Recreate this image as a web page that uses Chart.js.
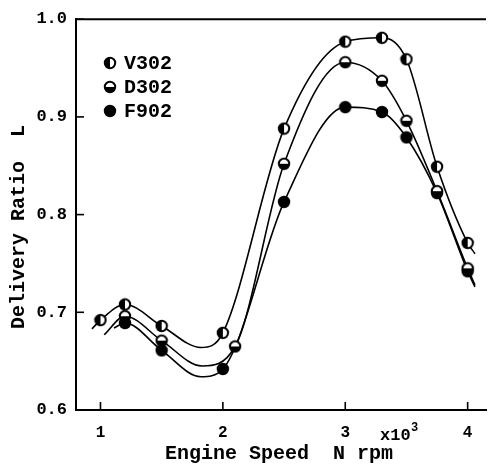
<!DOCTYPE html>
<html>
<head>
<meta charset="utf-8">
<script src="https://cdn.jsdelivr.net/npm/chart.js@4.4.1/dist/chart.umd.min.js"></script>
<style>
html,body{margin:0;padding:0;background:#fff;}
#wrap{width:491px;height:467px;}
</style>
</head>
<body>
<div id="wrap"><canvas id="c" width="491" height="467"></canvas></div>
<script>
// ---- data ----
const seriesNames = ['V302', 'D302', 'F902'];
const xTickValues = [1, 2, 3, 4];
const yTickValues = [0.6, 0.7, 0.8, 0.9, 1.0];
const yTickLabels = ['0.6', '0.7', '0.8', '0.9', '1.0'];

// measured points (markers)
const xV302 = [1.0, 1.2, 1.5, 2.0, 2.5, 3.0, 3.3, 3.5, 3.75, 4.0];
const yV302 = [0.692, 0.708, 0.686, 0.679, 0.888, 0.977, 0.981, 0.959, 0.849, 0.771];
const xD302 = [1.2, 1.5, 2.1, 2.5, 3.0, 3.3, 3.5, 3.75, 4.0];
const yD302 = [0.696, 0.671, 0.665, 0.852, 0.956, 0.937, 0.896, 0.824, 0.745];
const xF902 = [1.2, 1.5, 2.0, 2.5, 3.0, 3.3, 3.5, 3.75, 4.0];
const yF902 = [0.689, 0.661, 0.642, 0.813, 0.910, 0.905, 0.879, 0.822, 0.742];

// extra points of the drawn curves (ends and troughs)
const xV302curve = [0.93, 1.82, 4.06];
const yV302curve = [0.683, 0.664, 0.760];
const xD302curve = [1.03, 1.83, 4.06];
const yD302curve = [0.677, 0.645, 0.728];
const xF902curve = [1.11, 1.82, 4.06];
const yF902curve = [0.684, 0.634, 0.726];

// ---- helpers ----
function pts(xs, ys) { return xs.map((x, i) => ({x: x, y: ys[i]})); }
function curve(xs, ys, cx, cy) {
  return pts(xs, ys).concat(pts(cx, cy)).sort((a, b) => a.x - b.x);
}
function markerImg(kind) {
  const s = 14, c = document.createElement('canvas');
  c.width = s; c.height = s;
  const g = c.getContext('2d');
  const r = 5.2, cx = s / 2, cy = s / 2;
  g.fillStyle = '#fff';
  g.beginPath(); g.arc(cx, cy, r, 0, Math.PI * 2); g.fill();
  g.fillStyle = '#000';
  if (kind === 'full') {
    g.beginPath(); g.arc(cx, cy, r, 0, Math.PI * 2); g.fill();
  } else if (kind === 'left') {
    g.beginPath(); g.arc(cx, cy, r, Math.PI / 2, Math.PI * 1.5); g.closePath(); g.fill();
  } else if (kind === 'bottom') {
    g.beginPath(); g.arc(cx, cy, r, 0, Math.PI); g.closePath(); g.fill();
  }
  g.strokeStyle = '#000'; g.lineWidth = 2;
  g.beginPath(); g.arc(cx, cy, r, 0, Math.PI * 2); g.stroke();
  return c;
}
const mV = markerImg('left'), mD = markerImg('bottom'), mF = markerImg('full');
const markers = [mV, mD, mF];

const FONT = 'Liberation Mono';

const lineBase = {
  type: 'line', showLine: true, pointRadius: 0, pointHoverRadius: 0,
  borderColor: '#000', borderWidth: 1.6, fill: false,
  cubicInterpolationMode: 'monotone', order: 10
};
const markBase = {
  type: 'scatter', showLine: false, borderColor: '#000', backgroundColor: '#000'
};

const decor = {
  id: 'decor',
  afterDraw(chart) {
    const ctx = chart.ctx, xs = chart.scales.x, ys = chart.scales.y, ca = chart.chartArea;
    ctx.save();
    ctx.strokeStyle = '#000';
    ctx.lineWidth = 2;
    ctx.beginPath(); ctx.moveTo(ca.left - 1, ca.top); ctx.lineTo(ca.right, ca.top); ctx.stroke();
    ctx.lineWidth = 1.6;
    xTickValues.forEach(v => {
      const p = xs.getPixelForValue(v);
      ctx.beginPath(); ctx.moveTo(p, ca.bottom); ctx.lineTo(p, ca.bottom - 8); ctx.stroke();
    });
    yTickValues.forEach(v => {
      const p = ys.getPixelForValue(v);
      ctx.beginPath(); ctx.moveTo(ca.left, p); ctx.lineTo(ca.left + 8, p); ctx.stroke();
    });
    // legend
    ctx.fillStyle = '#000';
    ctx.textBaseline = 'middle';
    ctx.textAlign = 'left';
    ctx.font = 'bold 20px "' + FONT + '"';
    const ly = [63, 87, 111];
    seriesNames.forEach((n, i) => {
      ctx.drawImage(markers[i], 110 - 7, ly[i] - 7);
      ctx.fillText(n, 124, ly[i] + 1);
    });
    // x10^3
    ctx.font = 'bold 17px "' + FONT + '"';
    ctx.fillText('x10', 380, 436);
    ctx.font = 'bold 12px "' + FONT + '"';
    ctx.fillText('3', 411, 428);
    // axis titles
    ctx.font = 'bold 20px "' + FONT + '"';
    ctx.textAlign = 'center';
    ctx.fillText('Engine Speed  N rpm', 279, 454);
    ctx.save();
    ctx.translate(19, 227);
    ctx.rotate(-Math.PI / 2);
    ctx.fillText('Delivery Ratio  L', 0, 0);
    ctx.restore();
    ctx.restore();
  }
};

new Chart(document.getElementById('c'), {
  data: {
    datasets: [
      Object.assign({}, lineBase, {label: 'V302 curve', data: curve(xV302, yV302, xV302curve, yV302curve)}),
      Object.assign({}, lineBase, {label: 'D302 curve', data: curve(xD302, yD302, xD302curve, yD302curve)}),
      Object.assign({}, lineBase, {label: 'F902 curve', data: curve(xF902, yF902, xF902curve, yF902curve)}),
      Object.assign({}, markBase, {label: 'F902', data: pts(xF902, yF902), pointStyle: mF, order: 3}),
      Object.assign({}, markBase, {label: 'D302', data: pts(xD302, yD302), pointStyle: mD, order: 2}),
      Object.assign({}, markBase, {label: 'V302', data: pts(xV302, yV302), pointStyle: mV, order: 1})
    ]
  },
  options: {
    responsive: false,
    devicePixelRatio: 1,
    animation: false,
    layout: {padding: {top: 14, right: 0, left: 0, bottom: 0}},
    plugins: {legend: {display: false}, tooltip: {enabled: false}},
    scales: {
      x: {
        type: 'linear', min: 0.8, max: 4.15,
        afterBuildTicks: s => { s.ticks = xTickValues.map(v => ({value: v})); },
        afterFit: s => { s.height = 57; },
        grid: {display: true, drawOnChartArea: false, drawTicks: false},
        border: {display: true, color: '#000', width: 2},
        ticks: {color: '#000', padding: 13, maxRotation: 0, autoSkip: false,
                font: {family: FONT, size: 16, weight: 'bold'},
                callback: v => String(v)}
      },
      y: {
        type: 'linear', min: 0.6, max: 1.0,
        afterBuildTicks: s => { s.ticks = yTickValues.map(v => ({value: v})); },
        afterFit: s => { s.width = 76; },
        grid: {display: true, drawOnChartArea: false, drawTicks: false},
        border: {display: true, color: '#000', width: 2},
        ticks: {color: '#000', padding: 9, autoSkip: false,
                font: {family: FONT, size: 17, weight: 'bold'},
                callback: (v) => { const i = yTickValues.findIndex(t => Math.abs(t - v) < 1e-9); return i >= 0 ? yTickLabels[i] : ''; }}
      }
    }
  },
  plugins: [decor]
});
</script>
</body>
</html>
